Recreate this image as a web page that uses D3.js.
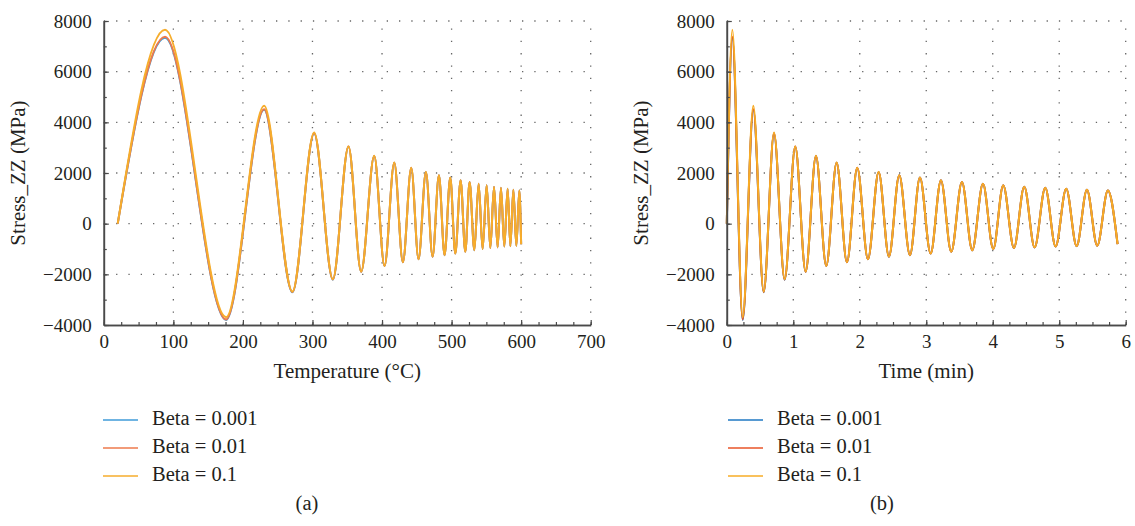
<!doctype html>
<html lang="en">
<head>
<meta charset="UTF-8">
<title>Stress_ZZ vs temperature and time</title>
<style>
  body { margin: 0; background: #fff; }
  svg text { font-family: "Liberation Serif", "DejaVu Serif", serif; fill: #231f20; }
</style>
</head>
<body>
<svg id="chart" width="1135" height="526"></svg>
<script src="https://d3js.org/d3.v7.min.js"></script>
<script>
// extremes of the stress curve (start, peaks/troughs, end)
const temperature = [20, 88, 175.8, 230.5, 271.2, 302.4, 329.3, 351.8, 370, 388.8, 403.6, 417.6, 430, 442,
    452.5, 463.1, 472.7, 481.8, 489.9, 498.1, 505.3, 513, 519.7, 525.9, 532.7, 538.9, 544.6, 550.4, 555.7,
    561, 566.2, 571, 575.8, 580.6, 584.5, 588.8, 593.1, 597.4, 600];
const time = [0, 0.083, 0.239, 0.399, 0.555, 0.71, 0.87, 1.03, 1.186, 1.341, 1.496, 1.652, 1.807, 1.962,
    2.123, 2.284, 2.439, 2.594, 2.755, 2.905, 3.066, 3.221, 3.376, 3.537, 3.692, 3.853, 4.008, 4.158, 4.319,
    4.474, 4.63, 4.79, 4.946, 5.105, 5.262, 5.417, 5.572, 5.732, 5.878];

const stressBeta0001 = [0, 7340, -3800, 4500, -2710, 3560, -2210, 3040, -1900, 2670, -1675, 2400, -1525, 2200,
    -1405, 2040, -1305, 1910, -1245, 1820, -1182, 1715, -1112, 1642, -1048, 1578, -1002, 1513, -962, 1458,
    -937, 1418, -902, 1378, -887, 1338, -872, 1308, -812];
const stressBeta001 = [0, 7380, -3780, 4520, -2700, 3570, -2200, 3045, -1895, 2675, -1672, 2405, -1522, 2205,
    -1402, 2043, -1302, 1912, -1242, 1822, -1181, 1716, -1111, 1643, -1047, 1579, -1001, 1514, -961, 1459,
    -936, 1419, -901, 1379, -886, 1339, -871, 1309, -811];
const stressBeta01 = [0, 7650, -3690, 4650, -2680, 3600, -2190, 3050, -1890, 2680, -1670, 2410, -1520, 2210,
    -1400, 2046, -1300, 1915, -1240, 1824, -1180, 1718, -1110, 1645, -1046, 1580, -1000, 1515, -960, 1460,
    -935, 1420, -900, 1380, -885, 1340, -870, 1310, -810];

const seriesNames = ["Beta = 0.001", "Beta = 0.01", "Beta = 0.1"];
const yTicks = [-4000, -2000, 0, 2000, 4000, 6000, 8000];
const tempTicks = [0, 100, 200, 300, 400, 500, 600, 700];
const timeTicks = [0, 1, 2, 3, 4, 5, 6];

const colorsA = ["#3f9bd8", "#ee7a4c", "#f6ad2c"];
const colorsB = ["#1f79c3", "#e85528", "#f7ac26"];

const svg = d3.select("#chart");
const stressSets = [stressBeta0001, stressBeta001, stressBeta01];

// minus sign like the original figure
const fmt = d => (d < 0 ? "\u2212" : "") + Math.abs(d);

function drawPanel(p) {
    const g = svg.append("g");
    const x = d3.scaleLinear().domain(p.xDomain).range([p.left, p.right]);
    const y = d3.scaleLinear().domain([-4000, 8000]).range([325, 21]);

    // dotted grid
    g.append("g").selectAll("line")
        .data(p.xTicks.slice(1))
        .join("line")
        .attr("x1", d => x(d)).attr("x2", d => x(d))
        .attr("y1", y(-4000)).attr("y2", y(8000))
        .attr("stroke", "#666").attr("stroke-width", 1.3)
        .attr("stroke-dasharray", "1.3,11");
    g.append("g").selectAll("line")
        .data(yTicks.slice(1))
        .join("line")
        .attr("x1", x(p.xDomain[0])).attr("x2", x(p.xDomain[1]))
        .attr("y1", d => y(d)).attr("y2", d => y(d))
        .attr("stroke", "#666").attr("stroke-width", 1.3)
        .attr("stroke-dasharray", "1.3,11");

    // curves
    const line = d3.line()
        .x((d, i) => x(p.xs[i]))
        .y(d => y(d))
        .curve(d3.curveMonotoneX);
    stressSets.forEach((s, i) => {
        g.append("path")
            .datum(s)
            .attr("fill", "none")
            .attr("stroke", p.colors[i])
            .attr("stroke-width", 2)
            .attr("d", line);
    });

    // axes
    g.append("g")
        .attr("transform", "translate(0," + y(-4000) + ")")
        .call(d3.axisBottom(x).tickValues(p.xTicks).tickSize(-5).tickSizeOuter(0).tickPadding(10).tickFormat(fmt));
    g.append("g")
        .attr("transform", "translate(0," + y(-4000) + ")")
        .call(d3.axisBottom(x).tickValues(p.xMinor).tickSize(-3).tickSizeOuter(0).tickFormat(""));
    g.append("g")
        .attr("transform", "translate(" + x(p.xDomain[0]) + ",0)")
        .call(d3.axisLeft(y).tickValues(yTicks).tickSize(-5).tickSizeOuter(0).tickPadding(12).tickFormat(fmt));
    g.append("g")
        .attr("transform", "translate(" + x(p.xDomain[0]) + ",0)")
        .call(d3.axisLeft(y).tickValues(d3.range(-4000, 8001, 1000)).tickSize(-3).tickSizeOuter(0).tickFormat(""));

    g.selectAll(".domain").attr("stroke", "#4a4a4a").attr("stroke-width", 1.6);
    g.selectAll(".tick line").attr("stroke", "#4a4a4a").attr("stroke-width", 1.2);
    g.selectAll(".tick text").attr("font-size", 19).attr("fill", "#231f20");

    // axis titles
    g.append("text")
        .attr("x", (p.left + p.right) / 2).attr("y", 378)
        .attr("text-anchor", "middle").attr("font-size", 21)
        .text(p.xLabel);
    g.append("text")
        .attr("transform", "translate(" + p.yLabelX + ",173) rotate(-90)")
        .attr("text-anchor", "middle").attr("font-size", 21)
        .text("Stress_ZZ (MPa)");

    // legend
    seriesNames.forEach((name, i) => {
        const by = 425 + i * 28;
        g.append("line")
            .attr("x1", p.legendX).attr("x2", p.legendX + 35)
            .attr("y1", by - 5).attr("y2", by - 5)
            .attr("stroke", p.colors[i]).attr("stroke-width", 1.6);
        g.append("text")
            .attr("x", p.legendX + 49).attr("y", by)
            .attr("font-size", 20.5)
            .text(name);
    });

    g.append("text")
        .attr("x", p.tagX).attr("y", 510)
        .attr("text-anchor", "middle").attr("font-size", 20.5)
        .text(p.tag);
}

drawPanel({
    left: 103.8, right: 590.7,
    xDomain: [0, 700], xTicks: tempTicks, xMinor: d3.range(0, 701, 25),
    xs: temperature, colors: colorsA,
    xLabel: "Temperature (\u00B0C)", yLabelX: 25,
    legendX: 103, tagX: 307, tag: "(a)"
});
drawPanel({
    left: 726.8, right: 1125.7,
    xDomain: [0, 6], xTicks: timeTicks, xMinor: d3.range(0, 6.001, 0.25),
    xs: time, colors: colorsB,
    xLabel: "Time (min)", yLabelX: 648,
    legendX: 728, tagX: 882, tag: "(b)"
});
</script>
</body>
</html>
